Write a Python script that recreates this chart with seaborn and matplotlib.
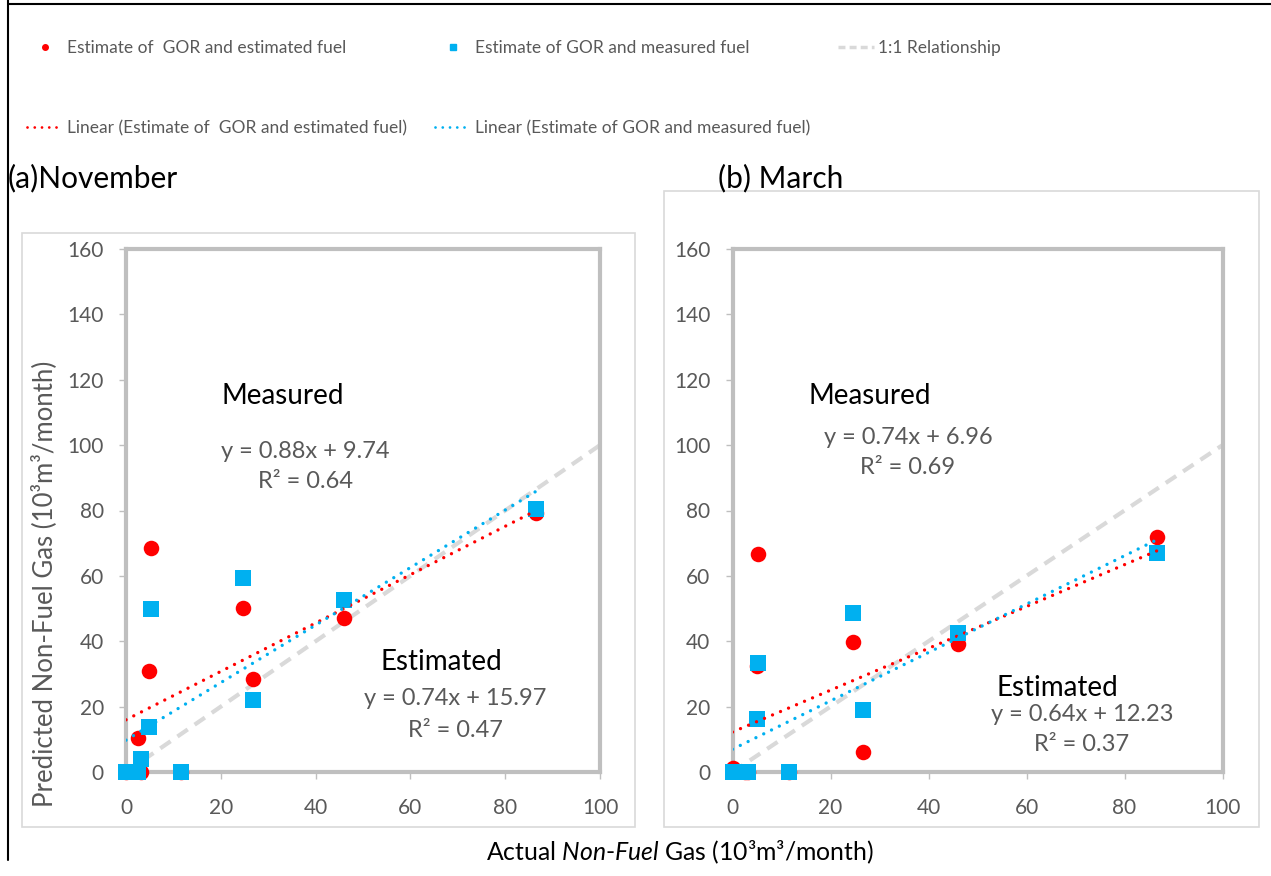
import numpy as np
import seaborn as sns
import matplotlib.pyplot as plt
from matplotlib.lines import Line2D
from matplotlib.patches import Rectangle

sns.set_theme(style="white")
plt.rcParams['font.family'] = ['Lato', 'DejaVu Sans']
plt.rcParams['mathtext.fontset'] = 'custom'
plt.rcParams['mathtext.rm'] = 'Lato'
plt.rcParams['mathtext.it'] = 'Lato:italic'

# actual non-fuel gas per site (10^3 m3/month)
actual = [0, 2.6, 3.2, 4.9, 5.2, 11.6, 24.6, 26.7, 46.0, 86.6]
# predicted values, November
nov_est = [0, 10.4, 0, 30.9, 68.5, 0, 50.1, 28.6, 47.2, 79.2]
nov_meas = [0, 0, 4.1, 13.7, 49.8, 0, 59.2, 21.9, 52.7, 80.6]
# predicted values, March
mar_est = [1.3, 0, 0, 32.3, 66.7, 0, 39.7, 6.1, 39.3, 72.0]
mar_meas = [0, 0, 0, 16.1, 33.2, 0, 48.6, 18.9, 42.5, 67.1]

# trendlines as printed on the chart: [estimated fuel, measured fuel]
nov_slope = [0.74, 0.88]
nov_icpt = [15.97, 9.74]
nov_r2 = [0.47, 0.64]
mar_slope = [0.64, 0.74]
mar_icpt = [12.23, 6.96]
mar_r2 = [0.37, 0.69]

RED = "#ff0000"
BLUE = "#00b0f0"
GREY = "#d9d9d9"
TXT = "#595959"
DOT = (0, (0.01, 2.6))

W, H = 1271, 876
fig = plt.figure(figsize=(W / 100, H / 100), dpi=100)
fig.patch.set_facecolor("white")

# frame bits of the source document and chart-area boxes
fig.add_artist(Line2D([8 / W, 8 / W], [1 - 860 / H, 1], color="black", lw=1.5))
fig.add_artist(Line2D([8 / W, 1], [1 - 4 / H, 1 - 4 / H], color="black", lw=1.5))
fig.add_artist(Rectangle((22 / W, 1 - 827 / H), 613 / W, 594 / H, fill=False,
                         ec=GREY, lw=1.2))
fig.add_artist(Rectangle((664 / W, 1 - 827 / H), 595 / W, 636 / H, fill=False,
                         ec=GREY, lw=1.2))

ax1 = fig.add_axes([126 / W, 1 - 772 / H, 474 / W, 523 / H])
ax2 = fig.add_axes([732.5 / W, 1 - 772 / H, 490 / W, 523 / H])

panels = [
    (ax1, nov_est, nov_meas, nov_slope, nov_icpt, nov_r2,
     [(33.0, 115.0), (37.8, 98.2), (37.8, 89.0)],
     [(66.5, 33.6), (69.4, 22.6), (69.4, 12.8)]),
    (ax2, mar_est, mar_meas, mar_slope, mar_icpt, mar_r2,
     [(28.1, 115.0), (35.8, 102.4), (35.8, 93.3)],
     [(66.2, 25.7), (71.3, 17.7), (71.3, 8.3)]),
]

xs = np.array([min(actual), max(actual)])
for ax, est, meas, slope, icpt, r2, mpos, epos in panels:
    ax.axline((0, 0), slope=1, color=GREY, lw=3, ls=(0, (3, 2)), zorder=1)
    sns.scatterplot(x=actual, y=est, ax=ax, color=RED, marker="o", s=125,
                    linewidth=0, clip_on=False, zorder=3)
    sns.scatterplot(x=actual, y=meas, ax=ax, color=BLUE, marker="s", s=125,
                    linewidth=0, clip_on=False, zorder=4)
    ax.plot(xs, slope[0] * xs + icpt[0], color=RED, lw=2.4, ls=DOT,
            dash_capstyle="round", zorder=5)
    ax.plot(xs, slope[1] * xs + icpt[1], color=BLUE, lw=2.4, ls=DOT,
            dash_capstyle="round", zorder=5)

    ax.set_xlim(0, 100)
    ax.set_ylim(0, 160)
    ax.set_xticks(range(0, 101, 20))
    ax.set_yticks(range(0, 161, 20))
    for sp in ax.spines.values():
        sp.set_color("#bfbfbf")
        sp.set_linewidth(3)
    ax.tick_params(bottom=True, left=True, direction="out", length=5, width=1,
                   color="#bfbfbf", labelcolor=TXT, labelsize=15)
    ax.tick_params(axis="x", pad=14)
    ax.tick_params(axis="y", pad=11)

    ax.text(*mpos[0], "Measured", ha="center", va="center", fontsize=20,
            color="black")
    ax.text(*mpos[1], f"y = {slope[1]:.2f}x + {icpt[1]:.2f}", ha="center",
            va="center", fontsize=17, color=TXT)
    ax.text(*mpos[2], f"R² = {r2[1]:.2f}", ha="center", va="center",
            fontsize=17, color=TXT)
    ax.text(*epos[0], "Estimated", ha="center", va="center", fontsize=20,
            color="black")
    ax.text(*epos[1], f"y = {slope[0]:.2f}x + {icpt[0]:.2f}", ha="center",
            va="center", fontsize=17, color=TXT)
    ax.text(*epos[2], f"R² = {r2[0]:.2f}", ha="center", va="center",
            fontsize=17, color=TXT)

ax1.set_ylabel("Predicted Non-Fuel Gas (10³m³/month)", fontsize=18.5,
               color=TXT)
ax1.yaxis.set_label_coords(-0.145, 0.36)

fig.text(8 / W, 1 - 178 / H, "(a)November", ha="left", va="center",
         fontsize=21.5, color="black")
fig.text(718 / W, 1 - 178 / H, "(b) March", ha="left", va="center",
         fontsize=21.5, color="black")
fig.text(680 / W, 1 - 852 / H,
         "Actual $\\mathit{Non}$-$\\mathit{Fuel}$ Gas (10³m³/month)",
         ha="center", va="center", fontsize=17.8, color="black")

handles = [
    Line2D([], [], marker="o", ls="none", color=RED, markersize=4),
    Line2D([], [], color=RED, lw=2, ls=DOT, dash_capstyle="round"),
    Line2D([], [], marker="s", ls="none", color=BLUE, markersize=4),
    Line2D([], [], color=BLUE, lw=2, ls=DOT, dash_capstyle="round"),
    Line2D([], [], color=GREY, lw=2.5, ls=(0, (2, 1.2))),
]
labels = [
    "Estimate of  GOR and estimated fuel",
    "Linear (Estimate of  GOR and estimated fuel)",
    "Estimate of GOR and measured fuel",
    "Linear (Estimate of GOR and measured fuel)",
    "1:1 Relationship",
]
fig.legend(handles, labels, loc="upper left", bbox_to_anchor=(27 / W, 1 - 40 / H),
           ncol=3, frameon=False, fontsize=12.5, handlelength=2.1,
           handletextpad=0.2, columnspacing=1.6, labelspacing=3.7,
           labelcolor=TXT, borderpad=0, borderaxespad=0)

fig.savefig("out.png", dpi=100)
